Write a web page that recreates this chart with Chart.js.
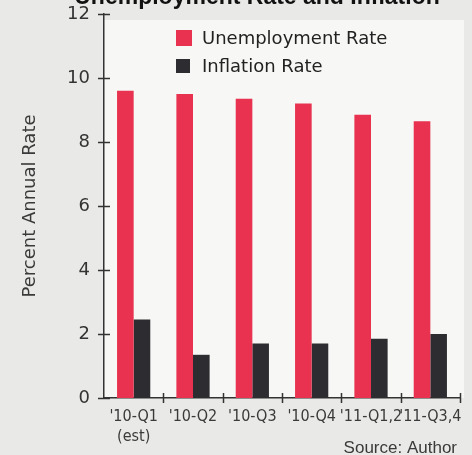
<!DOCTYPE html>
<html>
<head>
<meta charset="utf-8">
<script src="https://cdn.jsdelivr.net/npm/chart.js@4.4.1/dist/chart.umd.min.js"></script>
<style>
  html, body { margin: 0; padding: 0; background: #e9e9e7; }
  #wrap { width: 472px; height: 455px; }
</style>
</head>
<body>
<div id="wrap"><canvas id="c" width="472" height="455"></canvas></div>
<script>
// Quarterly forecast: unemployment vs. inflation (percent annual rate)
const categories = [["'10-Q1", "(est)"], "'10-Q2", "'10-Q3", "'10-Q4", "'11-Q1,2", "'11-Q3,4"];
const unemploymentRate = [9.6, 9.5, 9.35, 9.2, 8.85, 8.65];
const inflationRate = [2.45, 1.35, 1.7, 1.7, 1.85, 2.0];
const yTicks = [0, 2, 4, 6, 8, 10, 12];
const seriesNames = ["Unemployment Rate", "Inflation Rate"];
const titleText = "Unemployment Rate and Inflation";
const sourceText = "Source: Author";

const RED = "#e8324f";
const DARK = "#2c2c31";
const INK = "#333333";

// light panel behind the plot
const panel = {
  id: "panel",
  beforeDraw(chart) {
    const { ctx, chartArea: a } = chart;
    ctx.save();
    ctx.fillStyle = "#e9e9e7";
    ctx.fillRect(0, 0, chart.width, chart.height);
    ctx.fillStyle = "#f7f7f5";
    ctx.fillRect(a.left, a.top + 6, a.right - a.left + 4, a.bottom - a.top - 6);
    ctx.restore();
  }
};

// tick marks crossing the axes, legend, heading and source line
const decorations = {
  id: "decorations",
  afterDraw(chart) {
    const { ctx, chartArea: a } = chart;
    const x = chart.scales.x, y = chart.scales.y;
    ctx.save();
    ctx.strokeStyle = INK;
    ctx.lineWidth = 1.5;
    yTicks.forEach(v => {
      const py = Math.round(y.getPixelForValue(v)) + 0.5;
      ctx.beginPath();
      ctx.moveTo(a.left - 6, py);
      ctx.lineTo(a.left + 6, py);
      ctx.stroke();
    });
    const n = categories.length;
    const step = x.getPixelForValue(1) - x.getPixelForValue(0);
    for (let i = 1; i <= n; i++) {
      const px = Math.round(x.getPixelForValue(i) - step / 2) + 0.5;
      ctx.beginPath();
      ctx.moveTo(px, a.bottom - 5);
      ctx.lineTo(px, a.bottom + 5);
      ctx.stroke();
    }

    // legend
    const lx = 176, rows = [38, 66], sizes = [16, 14];
    chart.data.datasets.forEach((ds, i) => {
      const s = sizes[i];
      ctx.fillStyle = ds.backgroundColor;
      ctx.fillRect(lx, rows[i] - s / 2, s, s);
      ctx.fillStyle = "#222";
      ctx.font = "18px 'DejaVu Sans', sans-serif";
      ctx.textBaseline = "middle";
      ctx.textAlign = "left";
      ctx.fillText(ds.label, 202, rows[i] + 1);
    });

    // heading (runs off the top edge)
    ctx.fillStyle = "#111";
    ctx.font = "bold 23px 'Liberation Sans', Arial, sans-serif";
    ctx.textAlign = "center";
    ctx.textBaseline = "alphabetic";
    ctx.fillText(titleText, 257, 4);

    // source
    ctx.fillStyle = "#3a3a3a";
    ctx.font = "17px 'Liberation Sans', Arial, sans-serif";
    ctx.textAlign = "right";
    ctx.fillText(sourceText, 457, 453);
    ctx.restore();
  }
};

new Chart(document.getElementById("c"), {
  type: "bar",
  data: {
    labels: categories,
    datasets: [
      { label: seriesNames[0], data: unemploymentRate, backgroundColor: RED },
      { label: seriesNames[1], data: inflationRate, backgroundColor: DARK }
    ]
  },
  options: {
    responsive: false,
    animation: false,
    devicePixelRatio: 1,
    layout: { padding: { left: 0, right: 12, top: 14, bottom: 0 } },
    datasets: { bar: { categoryPercentage: 0.56, barPercentage: 1.0 } },
    plugins: {
      legend: { display: false },
      tooltip: { enabled: false }
    },
    scales: {
      x: {
        grid: { display: false, drawTicks: false },
        border: { display: true, color: INK, width: 1.5 },
        ticks: {
          padding: 8,
          color: "#3a3a3a",
          maxRotation: 0,
          autoSkip: false,
          font: { family: "'Liberation Sans Narrow', 'DejaVu Sans Condensed', sans-serif", size: 16, lineHeight: 1.3 }
        },
        afterFit(s) { s.height = 57; s.paddingLeft = 0; s.paddingRight = 0; }
      },
      y: {
        min: 0,
        max: 12,
        grid: { display: false, drawTicks: false },
        border: { display: true, color: INK, width: 1.5 },
        afterBuildTicks(s) { s.ticks = yTicks.map(v => ({ value: v })); },
        ticks: {
          padding: 14,
          color: "#333",
          font: { family: "'DejaVu Sans', sans-serif", size: 18 }
        },
        title: {
          display: true,
          text: "Percent Annual Rate",
          color: "#3a3a3a",
          padding: { top: 20, bottom: 0 },
          font: { family: "'DejaVu Sans', sans-serif", size: 18 }
        },
        afterFit(s) { s.width = 104; s.paddingTop = 0; s.paddingBottom = 0; }
      }
    }
  },
  plugins: [panel, decorations]
});
</script>
</body>
</html>
